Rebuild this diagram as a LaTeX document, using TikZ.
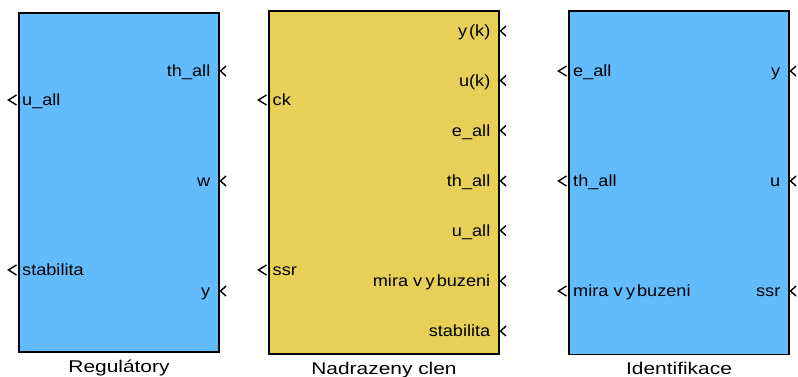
\documentclass[tikz,border=0pt]{standalone}
\usepackage{fontspec}
\setmainfont{Liberation Sans}
\newfontfamily\portfont[FakeStretch=1.12]{Liberation Sans}
\newfontfamily\namefont[FakeStretch=1.23]{Liberation Sans}
\usetikzlibrary{positioning}
\definecolor{blkblue}{RGB}{98,187,253}
\definecolor{blkyellow}{RGB}{230,208,87}

\begin{document}
\begin{tikzpicture}[x=1pt, y=-1pt]
        \tikzstyle{block}=[draw, line width=1.8pt, shape=rectangle, outer sep=0pt, inner sep=0pt]
        \tikzstyle{inlbl}=[anchor=west, inner sep=0pt, text height=11.6pt, text depth=0pt, font=\portfont\fontsize{16.2}{18}\selectfont]
        \tikzstyle{outlbl}=[inlbl, anchor=east]
        \tikzstyle{title}=[inner sep=0pt, text height=12.2pt, text depth=0pt, font=\namefont\fontsize{17}{20}\selectfont]
        \tikzstyle{pin}=[line width=1.4pt]

        \useasboundingbox (0,0) rectangle (798,377);

        % the three subsystems
        \node[block, fill=blkblue, minimum width=200pt, minimum height=339.5pt](reg) at (119,182.5){};
        \node[block, fill=blkyellow, minimum width=230pt, minimum height=343pt](nad) at (384,182.5){};
        \node[block, fill=blkblue, minimum width=220pt, minimum height=343.5pt](idf) at (679,182.8){};

        \node[title, below=7.7pt of reg](reg-name){Regulátory};
        \node[title, below=7.7pt of nad](nad-name){Nadrazeny clen};
        \node[title, below=7.4pt of idf](idf-name){Identifikace};

        % Regulatory ports
        \node[inlbl](reg-uall) at (22,100){u\_all};
        \node[inlbl](reg-stab) at (22,270){stabilita};
        \node[outlbl](reg-thall) at (210.5,71){th\_all};
        \node[outlbl](reg-w) at (210.5,181){w};
        \node[outlbl](reg-y) at (210.5,291){y};

        \draw[pin] (16.5,95) -- (8.5,100) -- (16.5,105);
        \draw[pin] (16.5,265) -- (8.5,270) -- (16.5,275);
        \draw[pin] (226,66) -- (220.5,71) -- (226,76);
        \draw[pin] (226,176) -- (220.5,181) -- (226,186);
        \draw[pin] (226,286) -- (220.5,291) -- (226,296);

        % Nadrazeny clen ports
        \node[inlbl](nad-ck) at (272.5,100){ck};
        \node[inlbl](nad-ssr) at (272.5,270){ssr};
        \node[outlbl](nad-yk) at (490.5,31){y\hspace{2pt}(k)};
        \node[outlbl](nad-uk) at (490.5,80.5){u(k)};
        \node[outlbl](nad-eall) at (490.5,130.5){e\_all};
        \node[outlbl](nad-thall) at (490.5,181){th\_all};
        \node[outlbl](nad-uall) at (490.5,230.5){u\_all};
        \node[outlbl](nad-mira) at (490.5,281){mira v\hspace{3.5pt}y\hspace{2pt}buzeni};
        \node[outlbl](nad-stab) at (490.5,331){stabilita};

        \draw[pin] (266.5,95) -- (258.5,100) -- (266.5,105);
        \draw[pin] (266.5,265) -- (258.5,270) -- (266.5,275);
        \draw[pin] (506,26) -- (500.5,31) -- (506,36);
        \draw[pin] (506,75.5) -- (500.5,80.5) -- (506,85.5);
        \draw[pin] (506,125.5) -- (500.5,130.5) -- (506,135.5);
        \draw[pin] (506,176) -- (500.5,181) -- (506,186);
        \draw[pin] (506,225.5) -- (500.5,230.5) -- (506,235.5);
        \draw[pin] (506,276) -- (500.5,281) -- (506,286);
        \draw[pin] (506,326) -- (500.5,331) -- (506,336);

        % Identifikace ports
        \node[inlbl](idf-eall) at (573,71){e\_all};
        \node[inlbl](idf-thall) at (573,181){th\_all};
        \node[inlbl](idf-mira) at (573,291){mira v\hspace{3.5pt}y\hspace{2pt}buzeni};
        \node[outlbl](idf-y) at (780.5,71){y};
        \node[outlbl](idf-u) at (780.5,181){u};
        \node[outlbl](idf-ssr) at (780.5,291){ssr};

        \draw[pin] (566.5,66) -- (558.5,71) -- (566.5,76);
        \draw[pin] (566.5,176) -- (558.5,181) -- (566.5,186);
        \draw[pin] (566.5,286) -- (558.5,291) -- (566.5,296);
        \draw[pin] (796,66) -- (790.5,71) -- (796,76);
        \draw[pin] (796,176) -- (790.5,181) -- (796,186);
        \draw[pin] (796,286) -- (790.5,291) -- (796,296);
\end{tikzpicture}
\end{document}
